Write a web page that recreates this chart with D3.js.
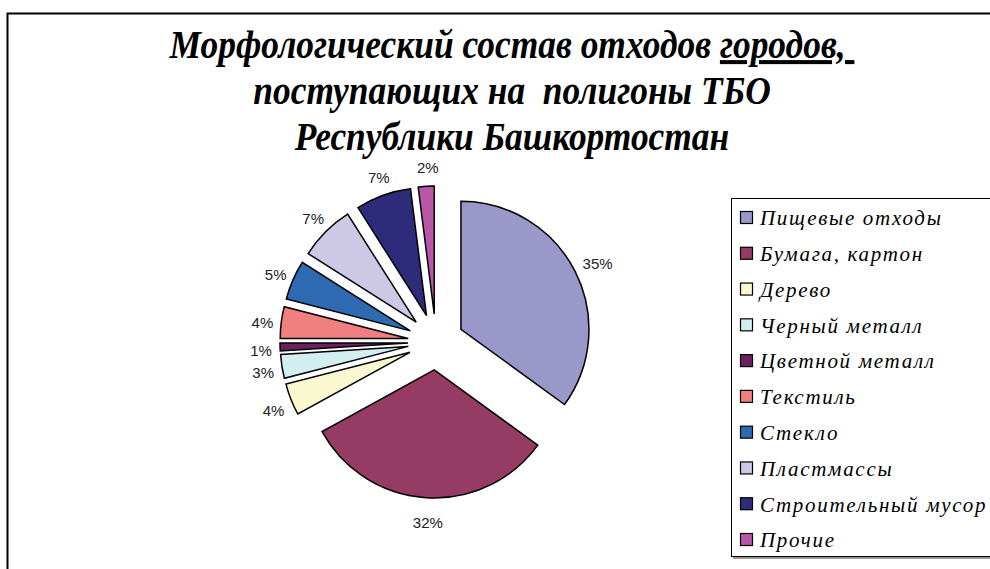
<!DOCTYPE html>
<html>
<head>
<meta charset="utf-8">
<script src="https://cdn.jsdelivr.net/npm/d3@7"></script>
<style>
  body { margin: 0; background: #fff; }
  svg { display: block; }
</style>
</head>
<body>
<div id="chart"></div>
<script>
var categories = ["Пищевые отходы", "Бумага, картон", "Дерево", "Черный металл", "Цветной металл",
  "Текстиль", "Стекло", "Пластмассы", "Строительный мусор", "Прочие"]
var values = [35, 32, 4, 3, 1, 4, 5, 7, 7, 2]
var colors = ["#9a97c9", "#963c64", "#faf8d0", "#d2eef0", "#6b2160",
  "#f08080", "#2e6ab2", "#ccc8e6", "#2e2c7a", "#b857a8"]
var titleLines = ["Морфологический состав отходов ", "поступающих на  полигоны ТБО", "Республики Башкортостан"]
var titleUnderlined = "городов, "

var width = 990, height = 569
var dimensions = {
  cx: 436, cy: 342,
  radius: 128,
  explode: 28,
  labelRadius: 178
}

var svg = d3.select("#chart").append("svg")
  .attr("width", width)
  .attr("height", height)

// outer chart border (right and bottom run off the page)
svg.append("rect")
  .attr("x", 7.5).attr("y", 13.5)
  .attr("width", 1000).attr("height", 600)
  .attr("fill", "none")
  .attr("stroke", "#000")
  .attr("stroke-width", 2)

// title
var titleG = svg.append("g")
var titleText = titleG.selectAll("text")
  .data(titleLines).enter()
  .append("text")
  .attr("x", 0)
  .attr("y", (d, i) => 58 + i * 46)
  .attr("text-anchor", "middle")
  .style("font-family", "'Liberation Serif', 'Times New Roman', serif")
  .style("font-weight", "bold")
  .style("font-style", "italic")
  .style("font-size", "40px")
  .style("white-space", "pre")
  .attr("fill", "#000")
  .text(d => d)
titleText.filter((d, i) => i == 0)
  .append("tspan")
  .style("text-decoration", "underline")
  .text(titleUnderlined)
var w1 = titleText.nodes()[0].getComputedTextLength()
var sx = 685 / w1
titleG.attr("transform", `translate(512,0) scale(${sx},1)`)

// pie
var pie = d3.pie().sort(null).value(d => d)
var arcs = pie(values)
var arc = d3.arc().innerRadius(0).outerRadius(dimensions.radius)
var mid = d => (d.startAngle + d.endAngle) / 2

var bounds = svg.append("g")
  .attr("transform", `translate(${dimensions.cx},${dimensions.cy})`)

bounds.selectAll(".slice")
  .data(arcs).enter()
  .append("path")
  .attr("class", "slice")
  .attr("transform", d => `translate(${Math.sin(mid(d)) * dimensions.explode},${-Math.cos(mid(d)) * dimensions.explode})`)
  .attr("d", arc)
  .attr("fill", (d, i) => colors[i])
  .attr("stroke", "#000")
  .attr("stroke-width", 1.5)

bounds.selectAll(".lbl")
  .data(arcs).enter()
  .append("text")
  .attr("class", "lbl")
  .attr("x", d => Math.sin(mid(d)) * dimensions.labelRadius + 3)
  .attr("y", d => -Math.cos(mid(d)) * dimensions.labelRadius + 3)
  .attr("dy", "0.35em")
  .attr("text-anchor", "middle")
  .style("font-family", "'Liberation Sans', Arial, sans-serif")
  .style("font-size", "15px")
  .attr("fill", "#222")
  .text(d => d.value + "%")

// legend
var legend = svg.append("g")
legend.append("rect")
  .attr("x", 731.5).attr("y", 198.5)
  .attr("width", 300).attr("height", 358)
  .attr("fill", "#fff")
  .attr("stroke", "#000")
  .attr("stroke-width", 1)
legend.append("line")
  .attr("x1", 733).attr("x2", 990)
  .attr("y1", 558).attr("y2", 558)
  .attr("stroke", "#999")
  .attr("stroke-width", 2)

var legendY = d3.scaleLinear().domain([0, categories.length - 1]).range([218, 540])
var item = legend.selectAll(".item")
  .data(categories).enter()
  .append("g")
  .attr("class", "item")
  .attr("transform", (d, i) => `translate(740,${legendY(i)})`)
item.append("rect")
  .attr("x", 0.5).attr("y", -6.5)
  .attr("width", 12).attr("height", 12)
  .attr("fill", (d, i) => colors[i])
  .attr("stroke", "#000")
  .attr("stroke-width", 1.2)
item.append("text")
  .attr("x", 20)
  .attr("dy", "0.35em")
  .style("font-family", "'Liberation Serif', 'Times New Roman', serif")
  .style("font-style", "italic")
  .style("font-size", "21px")
  .style("letter-spacing", "1.7px")
  .attr("fill", "#000")
  .text(d => d)
</script>
</body>
</html>
